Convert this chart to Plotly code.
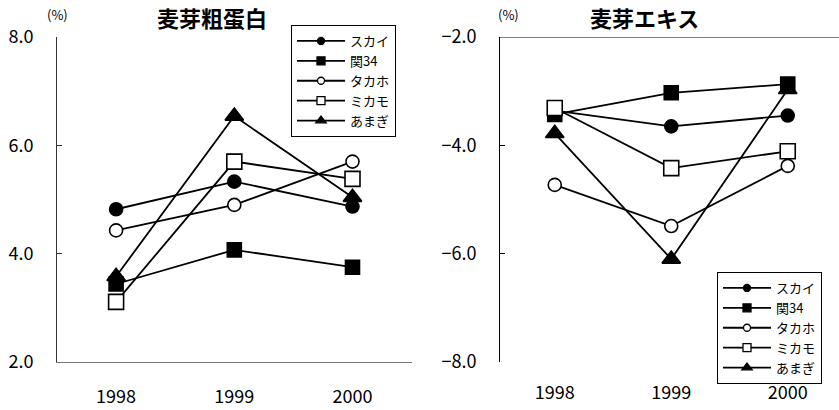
import plotly.graph_objects as go

years = ["1998", "1999", "2000"]
varieties = ["スカイ", "関34", "タカホ", "ミカモ", "あまぎ"]

# 麦芽粗蛋白 (%)
protein_sky = [4.82, 5.33, 4.87]
protein_seki34 = [3.44, 4.07, 3.75]
protein_takaho = [4.43, 4.90, 5.70]
protein_mikamo = [3.11, 5.70, 5.38]
protein_amagi = [3.58, 6.54, 5.04]

# 麦芽エキス (%)
extract_sky = [-3.36, -3.65, -3.45]
extract_seki34 = [-3.43, -3.03, -2.87]
extract_takaho = [-4.73, -5.49, -4.38]
extract_mikamo = [-3.31, -4.42, -4.11]
extract_amagi = [-3.78, -6.10, -2.97]

protein_tick_vals = [2.0, 4.0, 6.0, 8.0]
extract_tick_vals = [-8.0, -6.0, -4.0, -2.0]

protein_series = [protein_sky, protein_seki34, protein_takaho, protein_mikamo, protein_amagi]
extract_series = [extract_sky, extract_seki34, extract_takaho, extract_mikamo, extract_amagi]

FONT = "Noto Sans CJK JP"
symbols = ["circle", "square", "circle", "square", "triangle-up"]
fills = ["black", "black", "white", "white", "black"]
sizes = [13, 14, 13, 15, 16]
leg_sizes = [7, 8, 7, 8, 9]

fig = go.Figure()

for panel, series, xa, ya, leg in [(0, protein_series, "x", "y", "legend"),
                                   (1, extract_series, "x2", "y2", "legend2")]:
    for i, name in enumerate(varieties):
        fig.add_trace(go.Scatter(
            x=years, y=series[i], xaxis=xa, yaxis=ya, mode="lines+markers",
            name=name, showlegend=False, cliponaxis=False,
            line=dict(color="black", width=1.8),
            marker=dict(symbol=symbols[i], size=sizes[i], color=fills[i],
                        line=dict(color="black", width=1.6)),
        ))
    for i, name in enumerate(varieties):
        fig.add_trace(go.Scatter(
            x=[None], y=[None], xaxis=xa, yaxis=ya, mode="lines+markers",
            name=name, showlegend=True, legend=leg,
            line=dict(color="black", width=1.8),
            marker=dict(symbol=symbols[i], size=leg_sizes[i], color=fills[i],
                        line=dict(color="black", width=1.3)),
        ))

axis_font = dict(family=FONT, size=18, color="black")

legend_common = dict(
    bgcolor="white", bordercolor="black", borderwidth=1,
    font=dict(family=FONT, size=13, color="black"),
    itemwidth=48, tracegroupgap=0, xanchor="left", yanchor="top",
    itemclick=False, itemdoubleclick=False,
)

fig.update_layout(
    width=839, height=410,
    margin=dict(l=0, r=0, t=0, b=0, autoexpand=False),
    paper_bgcolor="white", plot_bgcolor="white",
    font=dict(family=FONT, color="black"),
    xaxis=dict(domain=[57/839, 411.6/839], type="category", range=[-0.5, 2.5],
               showgrid=False, zeroline=False, showline=True, linecolor="#777",
               linewidth=1, ticks="", tickfont=axis_font, ticklabelstandoff=18,
               anchor="y", automargin=False),
    yaxis=dict(domain=[1-362/410, 1-37/410], range=[2, 8], tickvals=protein_tick_vals,
               tickformat=".1f", showgrid=False, zeroline=False, showline=True,
               linecolor="#333", linewidth=1, ticks="inside", ticklen=5,
               tickcolor="#333", tickfont=axis_font, ticklabelstandoff=19, anchor="x",
               automargin=False),
    xaxis2=dict(domain=[500/839, 1.0], type="category", range=[-0.47, 2.44],
                showgrid=False, zeroline=False, showline=False, ticks="",
                tickfont=axis_font, ticklabelstandoff=18, anchor="y2", automargin=False),
    yaxis2=dict(domain=[1-362/410, 1-37/410], range=[-8, -2], tickvals=extract_tick_vals,
                tickformat=".1f", showgrid=False, zeroline=False, showline=True,
                linecolor="black", linewidth=1, ticks="inside", ticklen=5,
                tickcolor="black", tickfont=axis_font, ticklabelstandoff=19, anchor="x2",
                automargin=False),
    legend=dict(x=291/839, y=1-25/410, **legend_common),
    legend2=dict(x=717/839, y=1-272/410, **legend_common),
    shapes=[dict(type="line", xref="x2 domain", yref="y2", x0=0, x1=1.0,
                 y0=-2, y1=-2, line=dict(color="black", width=1))],
    annotations=[
        dict(text="麦芽粗蛋白", x=212/839, y=1-17/410, xref="paper", yref="paper",
             xanchor="center", yanchor="middle", showarrow=False,
             font=dict(family=FONT, size=22, weight="bold", color="black")),
        dict(text="(%)", x=57/839, y=1-14/410, xref="paper", yref="paper",
             xanchor="center", yanchor="middle", showarrow=False,
             font=dict(family=FONT, size=13, color="black")),
        dict(text="麦芽エキス", x=644/839, y=1-17/410, xref="paper", yref="paper",
             xanchor="center", yanchor="middle", showarrow=False,
             font=dict(family=FONT, size=22, weight="bold", color="black")),
        dict(text="(%)", x=508/839, y=1-14/410, xref="paper", yref="paper",
             xanchor="center", yanchor="middle", showarrow=False,
             font=dict(family=FONT, size=13, color="black")),
    ],
)

fig.write_html("out.html", config={"displayModeBar": False},
               post_script="document.body.style.margin='0px';document.body.style.padding='0px';")
